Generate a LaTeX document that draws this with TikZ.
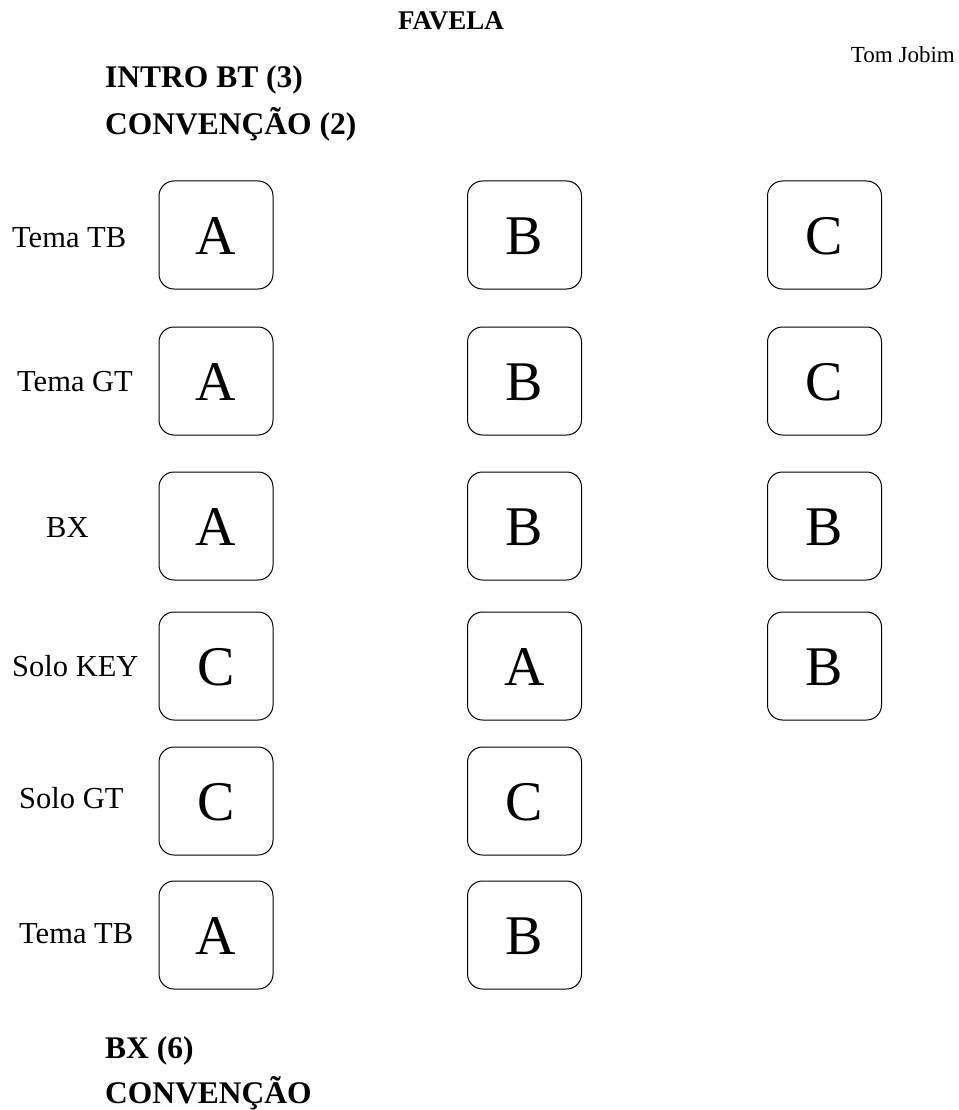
\documentclass[tikz,border=0pt]{standalone}
\usepackage{fontspec}
\setmainfont{Liberation Serif}
\begin{document}
\begin{tikzpicture}[x=1pt,y=-1pt,
  cell/.style={draw=black,line width=1pt,rounded corners=15pt,minimum width=114pt,minimum height=108pt,inner sep=0pt},
  letter/.style={font=\fontsize{56}{56}\selectfont,inner sep=0pt,anchor=base},
  rowlab/.style={font=\fontsize{30.5}{30.5}\selectfont,inner sep=0pt,anchor=base west},
  head/.style={font=\fontsize{31.5}{31.5}\selectfont\bfseries,inner sep=0pt,anchor=base west}]
\path[use as bounding box] (0,0) rectangle (958,1110);
\node[font=\fontsize{27}{27}\selectfont\bfseries,inner sep=0pt,anchor=base] (title) at (451,30) {FAVELA};
\node[font=\fontsize{23}{23}\selectfont,inner sep=0pt,anchor=base east] (author) at (955,63) {Tom Jobim};
\node[head] (h1) at (105,88) {INTRO BT (3)};
\node[head] (h2) at (105,135) {CONVENÇÃO (2)};
\node[head] (f1) at (105,1058) {BX (6)};
\node[head] (f2) at (105,1103) {CONVENÇÃO};
% row labels
\node[rowlab] (l1) at (12,247) {Tema TB};
\node[rowlab] (l2) at (17,391) {Tema GT};
\node[rowlab] (l3) at (46,537) {BX};
\node[rowlab] (l4) at (12,676) {Solo KEY};
\node[rowlab] (l5) at (19,808) {Solo GT};
\node[rowlab] (l6) at (19,943) {Tema TB};
% boxes
\foreach \r/\y/\la/\lb in {1/235/A/B,2/381/A/B,3/526/A/B,4/666/C/A,5/801/C/C,6/935/A/B}{
  \node[cell] (b\r a) at (216,\y) {};
  \node[letter] (t\r a) at (216,\y+19) {\la};
  \node[cell] (b\r b) at (524.5,\y) {};
  \node[letter] (t\r b) at (524.5,\y+19) {\lb};
}
\foreach \r/\y/\lc in {1/235/C,2/381/C,3/526/B,4/666/B}{
  \node[cell] (b\r c) at (824.5,\y) {};
  \node[letter] (t\r c) at (824.5,\y+19) {\lc};
}
\end{tikzpicture}
\end{document}
